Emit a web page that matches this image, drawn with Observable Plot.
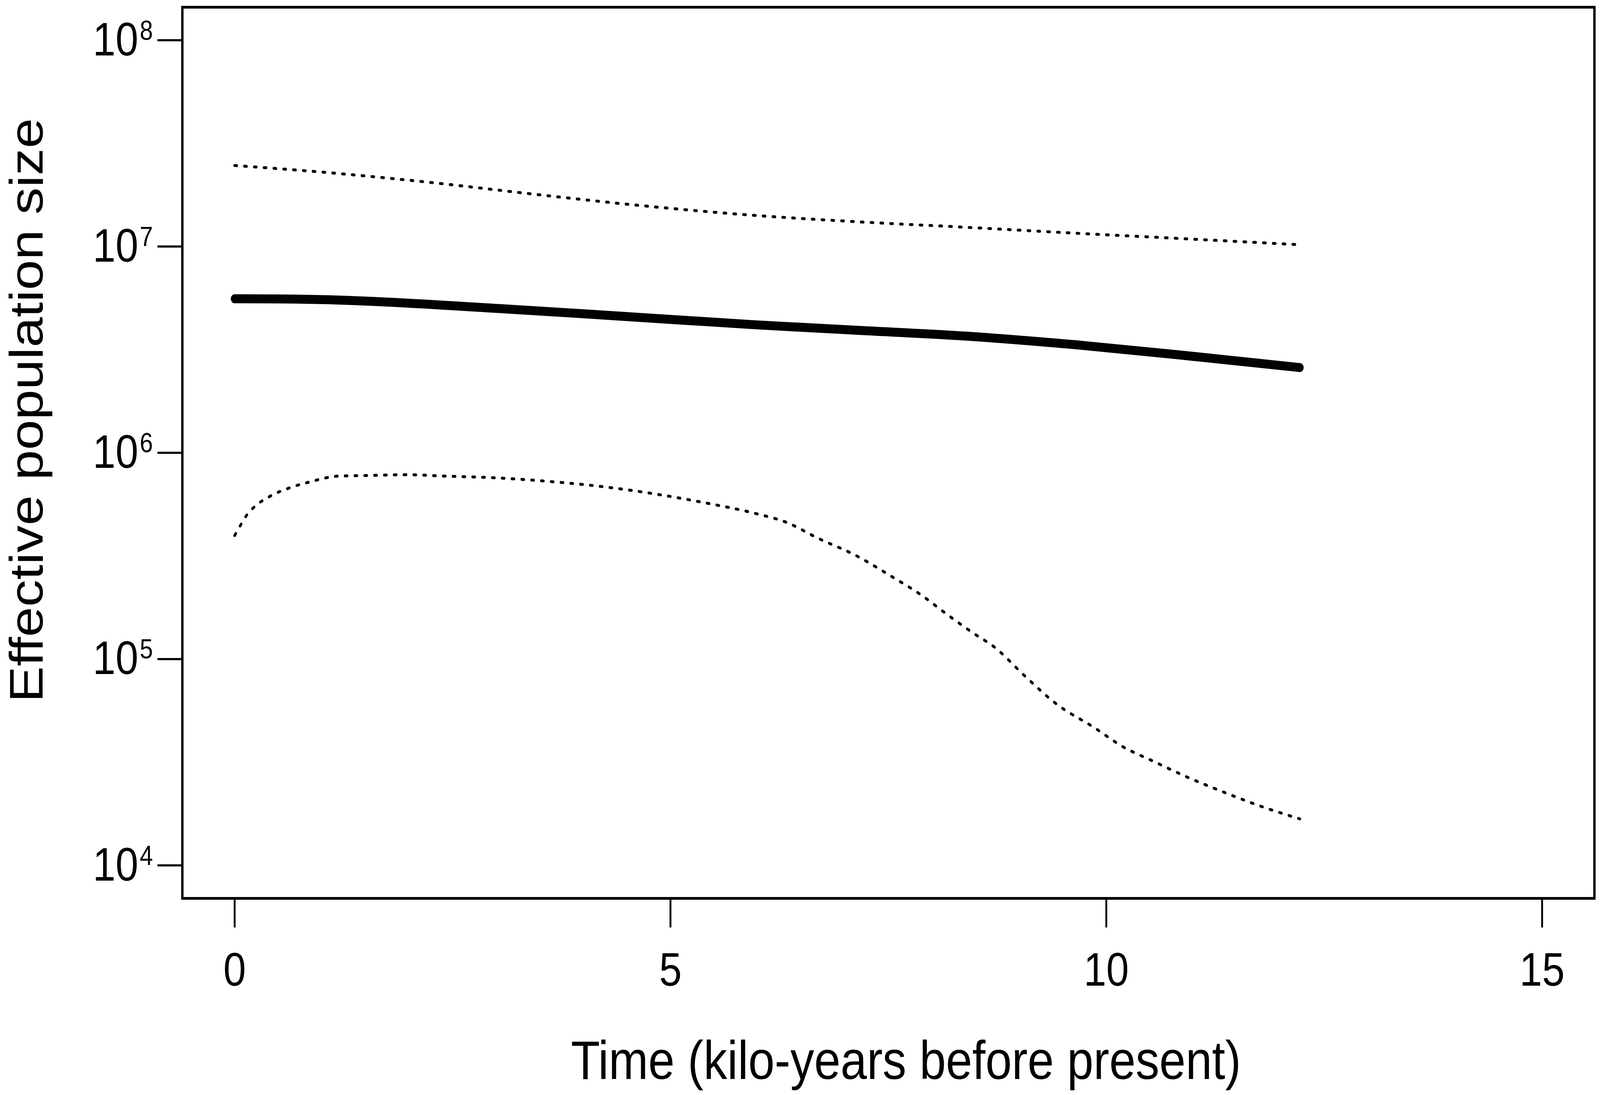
<!DOCTYPE html>
<html>
<head>
<meta charset="utf-8">
<script src="https://cdn.jsdelivr.net/npm/d3@7"></script>
<script src="https://cdn.jsdelivr.net/npm/@observablehq/plot@0.6"></script>
<style>
  html, body { margin: 0; padding: 0; background: #fff; overflow: hidden; }
  #chart svg { display: block; }
</style>
</head>
<body>
<div id="chart"></div>
<script>
// ---- data ----
const xTicks = [0, 5, 10, 15];
const yTicks = [1e4, 1e5, 1e6, 1e7, 1e8];
const xLabel = "Time (kilo-years before present)";
const yLabel = "Effective population size";

const medianTime = [0, 0.5, 1.2, 3.01, 4.59, 5.95, 7.12, 8.38, 9.65, 10.91, 12.22];
const medianNe   = [5.58e6, 5.57e6, 5.50e6, 5.01e6, 4.55e6, 4.18e6, 3.93e6, 3.68e6, 3.34e6, 2.96e6, 2.59e6];

const upperTime = [0, 1.03, 2.22, 3.40, 4.59, 5.92, 7.12, 8.38, 9.65, 10.91, 12.22];
const upperNe   = [2.47e7, 2.29e7, 2.05e7, 1.80e7, 1.59e7, 1.42e7, 1.32e7, 1.24e7, 1.16e7, 1.09e7, 1.02e7];

const lowerTime = [0, 0.08, 0.14, 0.24, 0.41, 0.63, 0.87, 1.19, 1.51, 1.98, 2.41, 2.97, 3.65, 4.2, 4.79,
                   5.39, 6.0, 6.32, 6.7, 7.12, 7.54, 7.88, 8.17, 8.47, 8.72, 9.06, 9.43, 9.86, 10.19,
                   10.53, 10.91, 11.33, 11.75, 12.22];
const lowerNe   = [3.97e5, 4.55e5, 5.00e5, 5.53e5, 6.17e5, 6.76e5, 7.24e5, 7.71e5, 7.76e5, 7.83e5, 7.71e5,
                   7.57e5, 7.24e5, 6.87e5, 6.35e5, 5.73e5, 5.05e5, 4.62e5, 3.84e5, 3.19e5, 2.51e5, 2.04e5,
                   1.65e5, 1.34e5, 1.14e5, 8.32e4, 6.05e4, 4.66e4, 3.76e4, 3.21e4, 2.70e4, 2.28e4, 1.95e4, 1.68e4];

const toRows = (ts, vs) => ts.map((t, i) => ({t, v: vs[i]}));
const median = toRows(medianTime, medianNe);
const upper = toRows(upperTime, upperNe);
const lower = toRows(lowerTime, lowerNe);

const font = "'Liberation Sans', Arial, Helvetica, sans-serif";

const chart = Plot.plot({
  width: 4725,
  height: 2804,
  marginLeft: 538,
  marginRight: 17,
  marginTop: 18,
  marginBottom: 504,
  style: {fontFamily: font, background: "#fff", color: "#000"},
  x: {domain: [-0.6, 15.6], ticks: xTicks},
  y: {type: "log", domain: [Math.pow(10, 3.84), Math.pow(10, 8.16)], ticks: yTicks},
  marks: [
    Plot.axisX({ticks: xTicks, tickSize: 75, tickPadding: 63, fontSize: 120, strokeWidth: 5.5, label: null, tickFormat: d => String(d)}),
    Plot.axisY({ticks: yTicks, tickSize: 73, tickPadding: 14, fontSize: 121, strokeWidth: 5.5, label: null,
                tickFormat: d => String(Math.round(Math.log10(d)))}),
    Plot.line(upper, {x: "t", y: "v", stroke: "#000", strokeWidth: 7.5, strokeDasharray: "6 23", strokeLinecap: "round", curve: "monotone-x"}),
    Plot.line(lower, {x: "t", y: "v", stroke: "#000", strokeWidth: 7.5, strokeDasharray: "6 23", strokeLinecap: "round", curve: "monotone-x"}),
    Plot.line(median, {x: "t", y: "v", stroke: "#000", strokeWidth: 23, strokeLinecap: "round", strokeLinejoin: "round", curve: "monotone-x"}),
    Plot.frame({stroke: "#000", strokeWidth: 7}),
    Plot.text([xLabel], {frameAnchor: "bottom", text: d => d, fontSize: 140, textAnchor: "middle", lineAnchor: "bottom", dx: 52, dy: 462, fill: "#000"}),
    Plot.text([yLabel], {frameAnchor: "left", text: d => d, fontSize: 139, textAnchor: "middle", lineAnchor: "bottom", rotate: -90, dx: -413, dy: -109, fill: "#000"})
  ]
});

// turn y tick labels "8" into "10" with a superscript exponent
d3.select(chart).selectAll('g[aria-label="y-axis tick label"] text').each(function() {
  const el = d3.select(this);
  const exp = el.text();
  el.text("10");
  el.append("tspan").attr("font-size", 70).attr("dy", -40).attr("dx", 4).text(exp);
});

// the browser viewport may be narrower than 4725px: fill it with the whole figure
chart.setAttribute("preserveAspectRatio", "none");
chart.style.width = "100vw";
chart.style.height = "100vh";
chart.style.maxWidth = "none";

document.getElementById("chart").appendChild(chart);
</script>
</body>
</html>
